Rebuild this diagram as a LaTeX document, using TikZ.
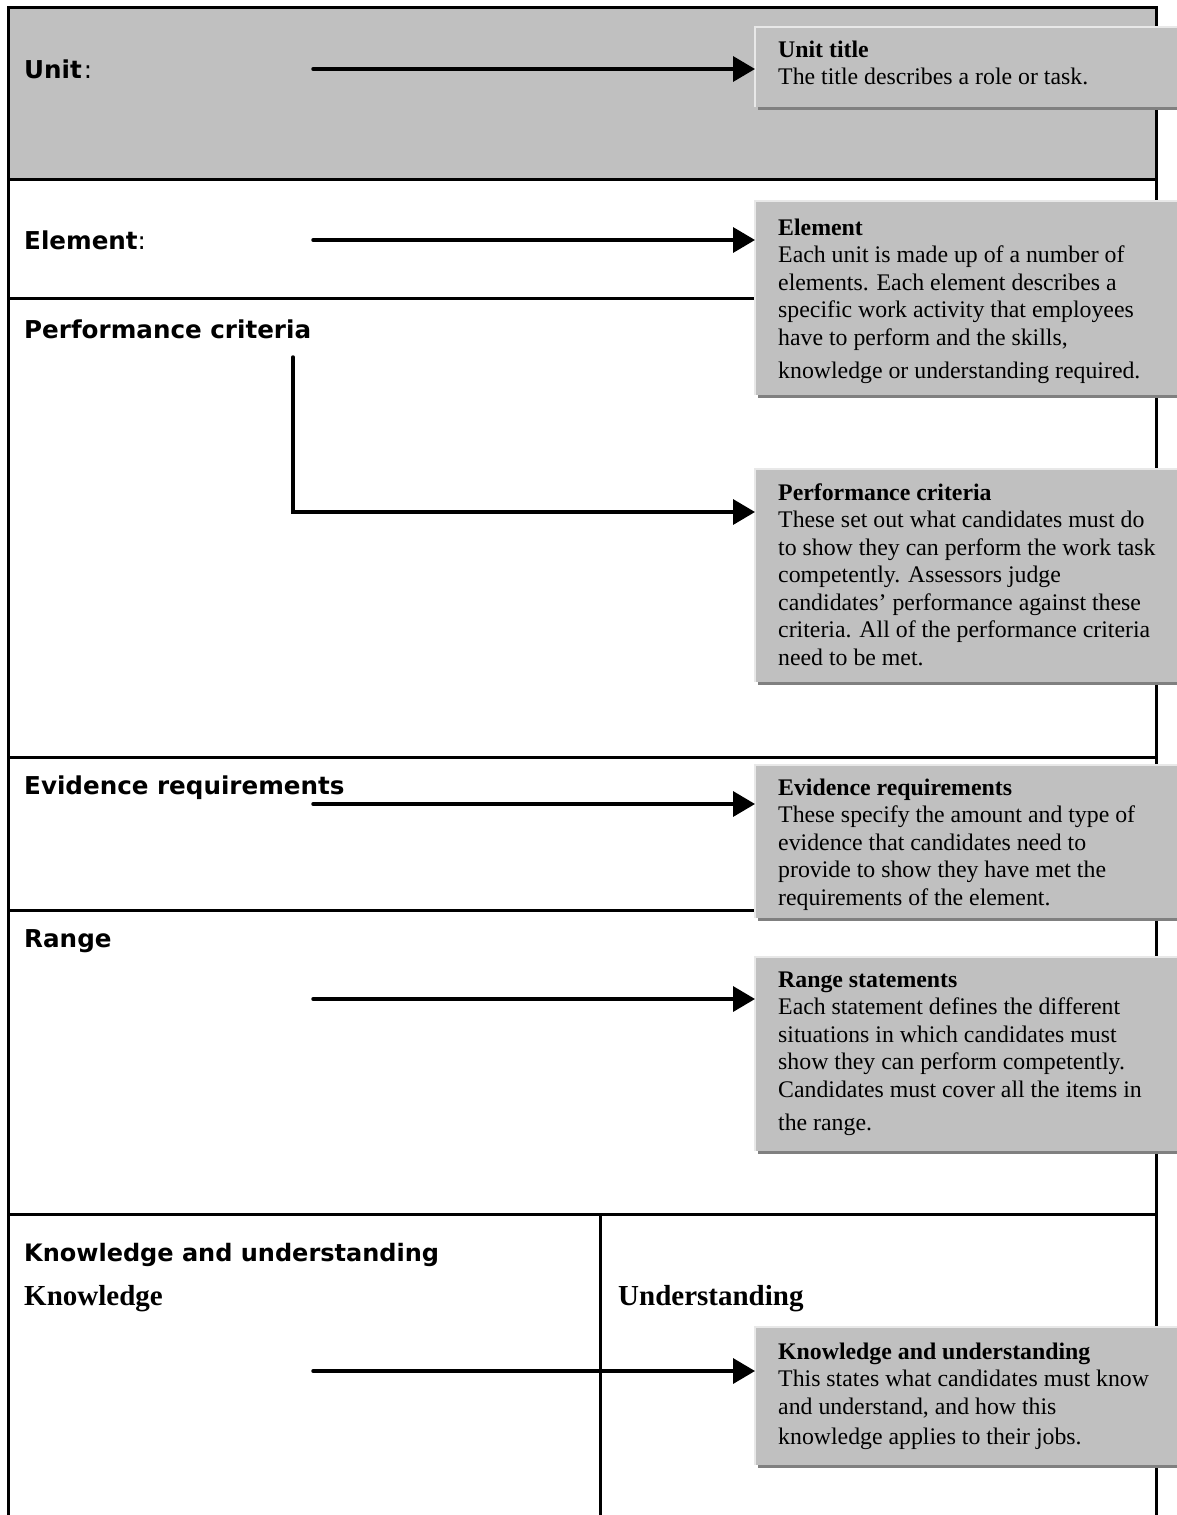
\documentclass[tikz,border=0pt]{standalone}
\usepackage{fontspec}
\setmainfont{Liberation Serif}
\newfontfamily\labfont{DejaVu Sans}
\usetikzlibrary{arrows.meta,shadows,calc}
\definecolor{hdr}{HTML}{C0C0C0}
\definecolor{shd}{HTML}{808080}
\definecolor{lite}{HTML}{E8E8E8}
\tikzset{
  frame/.style={line width=3pt},
  conn/.style={line width=3.5pt, line cap=round, -{Triangle[length=22pt,width=25pt]}},
  callout/.style={rectangle, fill=hdr, inner sep=0pt, anchor=north west, minimum width=440pt,
    drop shadow={shadow xshift=3pt, shadow yshift=-3pt, fill=shd, opacity=1}},
  ctext/.style={anchor=base west, inner sep=0pt, font=\fontsize{23.8}{27.5}\selectfont},
  lab/.style={anchor=base west, inner sep=0pt, font=\labfont\fontsize{24.6}{28}\selectfont\bfseries},
  labser/.style={anchor=base west, inner sep=0pt, font=\fontsize{29}{32}\selectfont\bfseries},
  liteedge/.style={draw=lite, line width=1.5pt},
}
\newcommand{\ctxt}[1]{\parbox[t]{400pt}{\raggedright #1}}
\begin{document}
\begin{tikzpicture}[x=1pt,y=-1pt]
\useasboundingbox (0,0) rectangle (1177,1515);
\clip (0,0) rectangle (1177,1515);
% header band
\fill[hdr] (8,7) rectangle (1156,179);
% frame
\draw[frame] (8,1520) -- (8,7) -- (1156,7) -- (1156,1520);
\foreach \yy in {179,298,757,910,1214} \draw[frame] (8,\yy) -- (1156,\yy);
\draw[frame] (600,1214) -- (600,1520);

% left labels
\node[lab] (lunit) at (24,78) {Unit\kern2pt{\mdseries:}};
\node[lab] (lelem) at (24,249) {Element{\mdseries:}};
\node[lab] (lperf) at (24,338) {Performance criteria};
\node[lab] (levid) at (24,794) {Evidence requirements};
\node[lab] (lrange) at (24,947) {Range};
\node[lab, font=\labfont\fontsize{24}{28}\selectfont\bfseries] (lku) at (24,1261) {Knowledge and understanding};
\node[labser] (lk) at (24,1305) {Knowledge};
\node[labser] (lu) at (618,1305) {Understanding};

% callout boxes
\node[callout, minimum height=80pt] (b1) at (755,27) {};
\node[callout, minimum height=194pt] (b2) at (755,201) {};
\node[callout, minimum height=213pt] (b3) at (755,469) {};
\node[callout, minimum height=153pt] (b4) at (755,765) {};
\node[callout, minimum height=194pt] (b5) at (755,957) {};
\node[callout, minimum height=138pt] (b6) at (755,1327) {};
\foreach \b in {b1,b2,b3,b4,b5,b6}
  \draw[liteedge] (\b.south west) -- (\b.north west) -- (\b.north east);

% callout texts
\node[ctext] (t1) at (778,57) {\ctxt{\textbf{Unit title}\\The title describes a role or task.}};
\node[ctext] (t2) at (778,235) {\ctxt{\textbf{Element}\\Each unit is made up of a number of\\elements. Each element describes a\\specific work activity that employees\\have to perform and the skills,\\[6pt]knowledge or understanding required.}};
\node[ctext] (t3) at (778,500) {\ctxt{\textbf{Performance criteria}\\These set out what candidates must do\\to show they can perform the work task\\competently. Assessors judge\\candidates’ performance against these\\criteria. All of the performance criteria\\need to be met.}};
\node[ctext] (t4) at (778,795) {\ctxt{\textbf{Evidence requirements}\\These specify the amount and type of\\evidence that candidates need to\\provide to show they have met the\\requirements of the element.}};
\node[ctext] (t5) at (778,987) {\ctxt{\textbf{Range statements}\\Each statement defines the different\\situations in which candidates must\\show they can perform competently.\\Candidates must cover all the items in\\[6pt]the range.}};
\node[ctext] (t6) at (778,1359) {\ctxt{\textbf{Knowledge and understanding}\\This states what candidates must know\\and understand, and how this\\[3pt]knowledge applies to their jobs.}};

% connectors
\coordinate (s1) at (313,69);
\coordinate (s2) at (313,240);
\coordinate (s3) at (293,357);
\coordinate (k3) at (293,512);
\coordinate (s4) at (313,804);
\coordinate (s5) at (313,999);
\coordinate (s6) at (313,1371);
\draw[conn] (s1) -- (s1 -| b1.west);
\draw[conn] (s2) -- (s2 -| b2.west);
\draw[conn] (s3) -- (k3) -- (k3 -| b3.west);
\draw[conn] (s4) -- (s4 -| b4.west);
\draw[conn] (s5) -- (s5 -| b5.west);
\draw[conn] (s6) -- (s6 -| b6.west);
\end{tikzpicture}
\end{document}
